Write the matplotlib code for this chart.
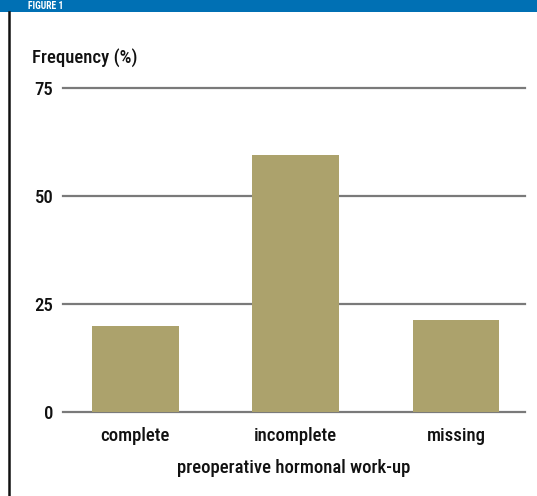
import matplotlib
matplotlib.use('Agg')
import matplotlib.pyplot as plt
from matplotlib.lines import Line2D
from matplotlib.patches import Rectangle

# ---------------------------
# Data
# ---------------------------
categories = ['complete', 'incomplete', 'missing']
frequency = [20.0, 59.5, 21.4]
y_ticks = [0, 25, 50, 75]

plt.rcParams['font.family'] = ['Roboto Condensed', 'Archivo Narrow', 'PT Sans Narrow',
                               'Liberation Sans Narrow', 'DejaVu Sans']
plt.rcParams['font.weight'] = 500
plt.rcParams['axes.labelweight'] = 500

W, H = 537, 496
fig = plt.figure(figsize=(W / 100, H / 100), dpi=100)

# header band and left border
fig.patches.append(Rectangle((0, 1 - 12 / H), 1, 12 / H, transform=fig.transFigure,
                             facecolor='#0070b4', edgecolor='none', zorder=0))
fig.text(28 / W, 1 - 6 / H, 'FIGURE 1', color='white', fontsize=7, fontweight='bold',
         ha='left', va='center')
fig.lines.append(Line2D([8.5 / W, 8.5 / W], [0, 1 - 12 / H], transform=fig.transFigure,
                        color='#111111', linewidth=1.8))

# ---------------------------
# Axes
# ---------------------------
left, right = 63 / W, 525 / W
bottom, top = 1 - 412 / H, 1 - 88 / H
ax = fig.add_axes([left, bottom, right - left, top - bottom])

x = range(len(categories))
ax.bar(x, frequency, width=0.54, color='#aca26c', zorder=2)

ax.set_xlim(-0.45, 2.43)
ax.set_ylim(0, 75)
ax.set_yticks(y_ticks)
ax.set_xticks(list(x))
ax.set_xticklabels(categories)
for yv in y_ticks:
    ax.axhline(yv, color='#7a7a7a', linewidth=1.6, zorder=1, clip_on=False)

for s in ax.spines.values():
    s.set_visible(False)
ax.tick_params(axis='both', length=0, labelsize=13.5, colors='#111111')
ax.tick_params(axis='y', pad=7)
ax.tick_params(axis='x', pad=11)

ax.set_xlabel('preoperative hormonal work-up', fontsize=13.5, color='#111111', labelpad=10)
fig.text(32 / W, 1 - 58 / H, 'Frequency (%)', fontsize=13.5, color='#111111',
         ha='left', va='center')

plt.savefig('out.png', dpi=100)
